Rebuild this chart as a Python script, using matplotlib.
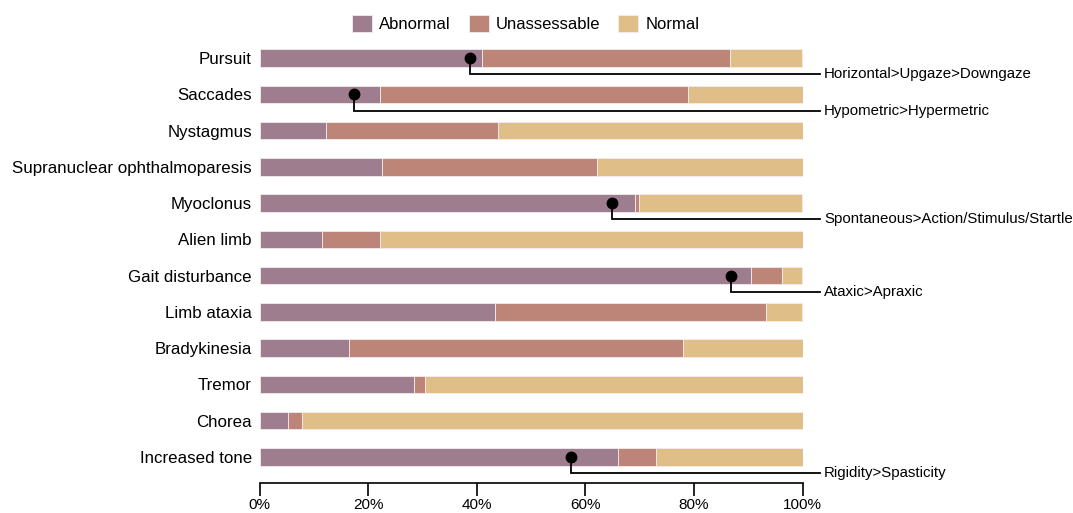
import matplotlib.pyplot as plt
import numpy as np

plt.rcParams["font.family"] = ["Liberation Sans", "DejaVu Sans"]

categories = [
    "Pursuit", "Saccades", "Nystagmus", "Supranuclear ophthalmoparesis",
    "Myoclonus", "Alien limb", "Gait disturbance", "Limb ataxia",
    "Bradykinesia", "Tremor", "Chorea", "Increased tone",
]
abnormal = [41.0, 22.1, 12.2, 22.5, 69.2, 11.5, 90.6, 43.3, 16.5, 28.4, 5.3, 66.1]
unassessable = [45.7, 56.9, 31.7, 39.7, 0.6, 10.6, 5.6, 50.0, 61.5, 2.0, 2.5, 7.0]
normal = [100 - a - u for a, u in zip(abnormal, unassessable)]

series_names = ["Abnormal", "Unassessable", "Normal"]
colors = ["#9e7d8e", "#bd8577", "#e0be88"]

# subtype notes: category, marker position (%), text
note_cats = ["Pursuit", "Saccades", "Myoclonus", "Gait disturbance", "Increased tone"]
note_pos = [38.7, 17.4, 64.9, 86.9, 57.4]
note_text = [
    "Horizontal>Upgaze>Downgaze",
    "Hypometric>Hypermetric",
    "Spontaneous>Action/Stimulus/Startle",
    "Ataxic>Apraxic",
    "Rigidity>Spasticity",
]

fig = plt.figure(figsize=(10.73, 5.13), dpi=100)
ax = fig.add_axes([259.5 / 1073, 1 - 483 / 513, 543 / 1073, 443 / 513])

y = np.arange(len(categories))
left = np.zeros(len(categories))
for name, vals, c in zip(series_names, [abnormal, unassessable, normal], colors):
    ax.barh(y, vals, left=left, height=0.48, color=c, edgecolor="#f3ecee",
            linewidth=0.6, label=name)
    left += np.asarray(vals)

for cat, pos, txt in zip(note_cats, note_pos, note_text):
    yi = categories.index(cat)
    yl = yi + 0.45
    ax.plot([pos, pos, 103.2], [yi, yl, yl], color="black", lw=1.3,
            clip_on=False, solid_joinstyle="miter")
    ax.plot(pos, yi, "o", color="black", ms=7.5, clip_on=False)
    ax.text(104.0, yl, txt, va="center", ha="left", fontsize=10.8, clip_on=False)

ax.set_xlim(0, 100)
ax.set_ylim(11.72, -0.5)
ax.set_yticks(y)
ax.set_yticklabels(categories, fontsize=12.2)
ax.tick_params(axis="y", length=0, pad=5.5)
ax.set_xticks([0, 20, 40, 60, 80, 100])
ax.set_xticklabels(["0%", "20%", "40%", "60%", "80%", "100%"], fontsize=11)
ax.tick_params(axis="x", length=9, width=1.2, direction="out", pad=2)
for s in ["top", "right", "left"]:
    ax.spines[s].set_visible(False)
ax.spines["bottom"].set_linewidth(1.2)

fig.legend(loc="upper center", bbox_to_anchor=(0.49, 1.0), ncol=3, frameon=False,
           fontsize=12, handlelength=1.2, handleheight=1.2, handletextpad=0.4,
           columnspacing=1.1)

fig.savefig("out.png", dpi=100)
